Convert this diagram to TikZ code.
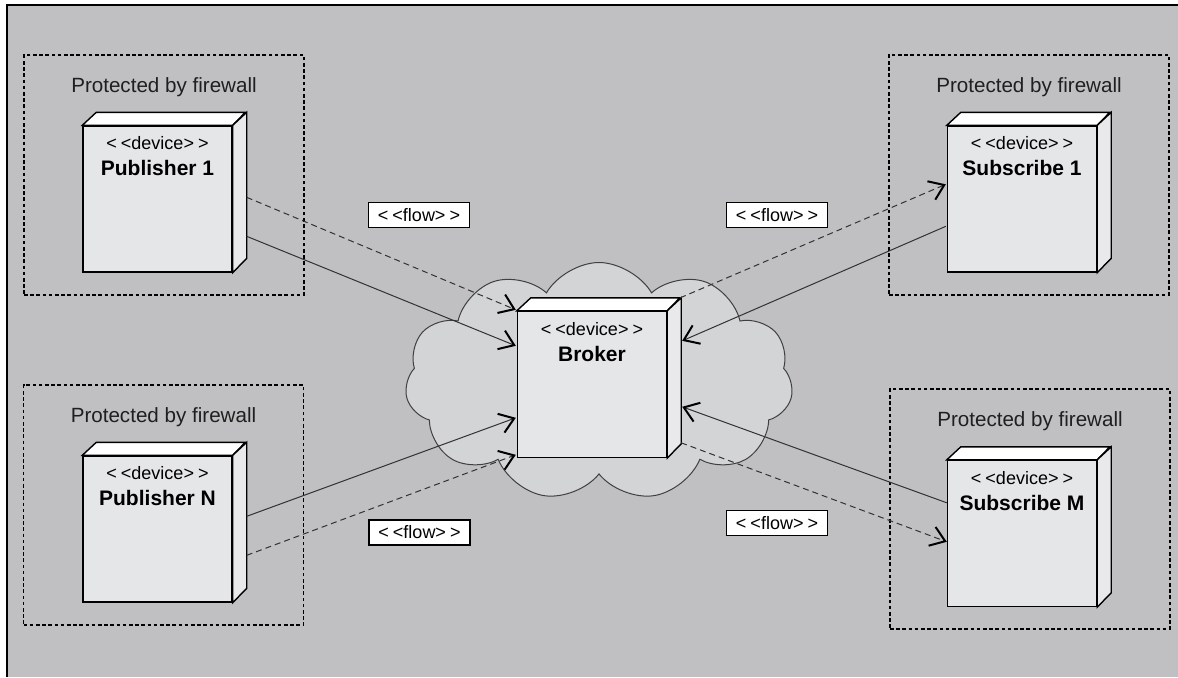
\documentclass[tikz,border=0pt]{standalone}
\usepackage{fontspec}
\setmainfont{Liberation Sans}
\usetikzlibrary{positioning,calc,shapes.symbols,arrows.meta}

\definecolor{bggray}{RGB}{192,192,194}
\definecolor{facegray}{RGB}{229,230,232}
\definecolor{sidegray}{RGB}{233,233,235}
\definecolor{cloudgray}{RGB}{211,212,214}
\definecolor{linegray}{RGB}{50,50,50}

\tikzset{
  firewall/.style = {draw = black, line width = 0.6pt, dash pattern = on 1.8pt off 1.3pt,
    minimum width = 140pt, minimum height = 120pt},
  fwlabel/.style = {font = \fontsize{10.3}{12}\selectfont, text = black!88},
  devface/.style = {draw = black, line width = 0.7pt, fill = facegray,
    minimum width = 74.5pt, minimum height = 73pt, inner sep = 0pt},
  devtext/.style = {align = center, inner sep = 0pt, font = \fontsize{9}{13}\selectfont},
  flowbox/.style = {draw = black, line width = 0.6pt, fill = white, minimum width = 50.5pt,
    minimum height = 12.5pt, inner sep = 1pt, font = \fontsize{9}{11}\selectfont},
  conn/.style = {->, draw = linegray, line width = 0.5pt},
  conndash/.style = {conn, dash pattern = on 3pt off 2pt},
}

\newcommand{\stereo}[1]{<\kern2pt<#1>\kern2pt>}
\newcommand{\devicebox}[3]{%
  \node[devface] (#1) at (#2) {};
  \filldraw[fill = white, line width = 0.7pt] (#1.north west) -- ++(14,-13) -- ++(149,0)
    -- (#1.north east) -- cycle;
  \filldraw[fill = sidegray, line width = 0.7pt] (#1.north east) -- ++(14,-13) -- ++(0,146)
    -- (#1.south east) -- cycle;
  \node[devtext, below = 5.5pt of #1.north] (#1-t)
    {\stereo{device}\\{\fontsize{10.5}{13}\selectfont\bfseries #3}};
}

\begin{document}
\begin{tikzpicture}
          [x = 0.5pt, y = -0.5pt,
           >= {Straight Barb[length = 7pt, width = 10pt, line width = 1pt, color = black]}]
          \useasboundingbox (0,0) rectangle (1178,677);
          \fill[bggray] (7,5) rectangle (1178,677);
          \draw[line width = 0.8pt] (7,677) -- (7,5) -- (1178,5);

          \node[firewall] (fw1) at (164,175) {};
          \node[firewall] (fw2) at (163.5,505) {};
          \node[firewall] (fw3) at (1029,175) {};
          \node[firewall] (fw4) at (1030,509) {};
          \node[fwlabel] (fw1-t) at ($(fw1.north)+(0,33)$) {Protected by firewall};
          \node[fwlabel] (fw2-t) at ($(fw2.north)+(0,33)$) {Protected by firewall};
          \node[fwlabel] (fw3-t) at ($(fw3.north)+(0,33)$) {Protected by firewall};
          \node[fwlabel] (fw4-t) at ($(fw4.north)+(0,33)$) {Protected by firewall};

          \node[cloud, cloud puffs = 11, cloud puff arc = 120, aspect = 1.63,
            minimum width = 194pt, minimum height = 119pt, inner sep = 0pt,
            draw = black!75, line width = 0.5pt, fill = cloudgray] (net) at (599,381.5) {};

          \devicebox{pub1}{157.5,199}{Publisher 1}
          \devicebox{pubN}{157.5,529}{Publisher N}
          \devicebox{sub1}{1022,199}{Subscribe 1}
          \devicebox{subM}{1022,533.5}{Subscribe M}
          \devicebox{broker}{592,384.5}{Broker}

          \draw[conndash] ($(pub1.north east)+(14,72)$) -- ($(broker.north west)+(-1,-1)$);
          \draw[conn] ($(pub1.north east)+(14,111)$) -- ($(broker.north west)+(-1,35)$);
          \draw[conn] ($(pubN.north east)+(14,61)$) -- ($(broker.north west)+(-1,107)$);
          \draw[conndash] ($(pubN.north east)+(14,100)$) -- ($(broker.north west)+(-1,144)$);
          \draw[conndash] ($(broker.north east)+(13,-13)$) -- ($(sub1.north west)+(-1,59)$);
          \draw[conn] ($(sub1.north west)+(-1,101)$) -- ($(broker.north east)+(15,30)$);
          \draw[conn] ($(subM.north west)+(0,43)$) -- ($(broker.north east)+(15,96)$);
          \draw[conndash] ($(broker.north east)+(14,132)$) -- ($(subM.north west)+(0,82)$);

          \node[flowbox] (flow1) at (419,215) {\stereo{flow}};
          \node[flowbox] (flow2) at (777,215) {\stereo{flow}};
          \node[flowbox] (flow3) at (419.5,532.5) {\stereo{flow}};
          \node[flowbox] (flow4) at (777,523) {\stereo{flow}};
        \end{tikzpicture}
\end{document}
